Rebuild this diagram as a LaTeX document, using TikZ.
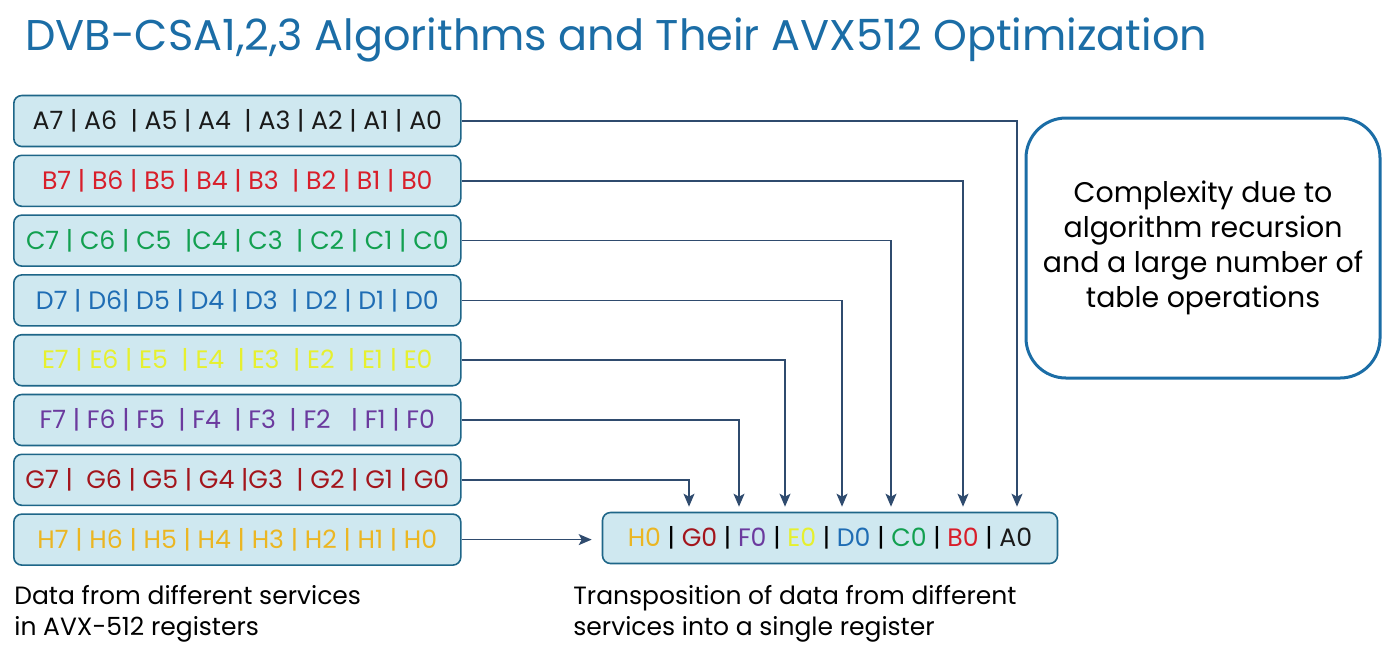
\documentclass[tikz,border=0pt]{standalone}
\usepackage{fontspec}
\setmainfont{Poppins}
\usetikzlibrary{arrows.meta, positioning}

\definecolor{titleblue}{HTML}{1B6DA6}
\definecolor{regfill}{HTML}{CFE8F0}
\definecolor{regline}{HTML}{1E6688}
\definecolor{arrowc}{HTML}{2F4B6E}
\definecolor{cA}{HTML}{1A1A1A}
\definecolor{cB}{HTML}{D81E2A}
\definecolor{cC}{HTML}{12A050}
\definecolor{cD}{HTML}{1F6DB4}
\definecolor{cE}{HTML}{E6F02E}
\definecolor{cF}{HTML}{6B3A9E}
\definecolor{cG}{HTML}{A3151C}
\definecolor{cH}{HTML}{EBB622}

\begin{document}
\begin{tikzpicture}[x=0.5pt, y=-0.5pt, node distance=3.6pt,
    reg/.style = {draw=regline, fill=regfill, line width=0.8pt, rounded corners=4pt,
                  minimum height=25.5pt, minimum width=223.5pt, inner xsep=5pt,
                  anchor=west, font=\fontsize{12.6}{14}\selectfont},
    arr/.style = {draw=arrowc, line width=0.8pt, shorten >=2.5pt,
                  -{Stealth[length=6.5pt, width=5.5pt, inset=1.5pt]}},
    caption/.style = {anchor=north west, align=left, inner sep=0pt,
                      font=\fontsize{12.5}{15.5}\selectfont}]
    \useasboundingbox (0,0) rectangle (1400,660);

    % titolo
    \node[anchor=base west, inner sep=0pt, text=titleblue,
          font=\fontsize{21.5}{24}\selectfont] (title) at (25,50)
          {DVB-CSA1,2,3 Algorithms and Their AVX512 Optimization};

    % registri di partenza
    \node[reg, text=cA] (regA) at (13,121) {A7 | A6 ~| A5 | A4 ~| A3 | A2 | A1 | A0};
    \node[reg, text=cB, below=of regA] (regB) {B7 | B6 | B5 | B4 | B3 ~| B2 | B1 | B0};
    \node[reg, text=cC, below=of regB] (regC) {C7 | C6 | C5 ~|C4 | C3 ~| C2 | C1 | C0};
    \node[reg, text=cD, below=of regC] (regD) {D7 | D6| D5 | D4 | D3 ~| D2 | D1 | D0};
    \node[reg, text=cE, below=of regD] (regE) {E7 | E6 | E5 ~| E4 ~| E3 ~| E2 ~| E1 | E0};
    \node[reg, text=cF, below=of regE] (regF) {F7 | F6 | F5 ~| F4 ~| F3 ~| F2 ~~| F1 | F0};
    \node[reg, text=cG, below=of regF] (regG) {G7 | ~G6 | G5 | G4 |G3 ~| G2 | G1 | G0};
    \node[reg, text=cH, below=of regG] (regH) {H7 | H6 | H5 | H4 | H3 | H2 | H1 | H0};

    % registro trasposto
    \node[reg, minimum width=227.5pt, anchor=center] (trans) at (830,538)
        {{\color{cH}H0} | {\color{cG}G0} | {\color{cF}F0} | {\color{cE}E0} |
         {\color{cD}D0} | {\color{cC}C0} | {\color{cB}B0} | {\color{cA}A0}};

    % nota a destra
    \node[draw=titleblue, line width=1.5pt, rounded corners=20pt, minimum width=177pt,
          minimum height=130pt, align=center, font=\fontsize{14.2}{17.5}\selectfont] (note)
          at (1203,248) {Complexity due to\\algorithm recursion\\and a large number of\\table operations};

    % didascalie
    \node[caption] (capL) at (14,585) {Data from different services\\in AVX-512 registers};
    \node[caption] (capR) at (573,585) {Transposition of data from different\\services into a single register};

    % colonne di arrivo
    \coordinate (inA) at (1017,0);
    \coordinate (inB) at (963,0);
    \coordinate (inC) at (891,0);
    \coordinate (inD) at (842,0);
    \coordinate (inE) at (785,0);
    \coordinate (inF) at (739,0);
    \coordinate (inG) at (689,0);

    \draw[arr] (regA.east) -| (inA |- trans.north);
    \draw[arr] (regB.east) -| (inB |- trans.north);
    \draw[arr] (regC.east) -| (inC |- trans.north);
    \draw[arr] (regD.east) -| (inD |- trans.north);
    \draw[arr] (regE.east) -| (inE |- trans.north);
    \draw[arr] (regF.east) -| (inF |- trans.north);
    \draw[arr] (regG.east) -| (inG |- trans.north);
    \draw[arr, shorten >=5pt] (regH.east) -- (regH.east -| trans.west);
\end{tikzpicture}
\end{document}
